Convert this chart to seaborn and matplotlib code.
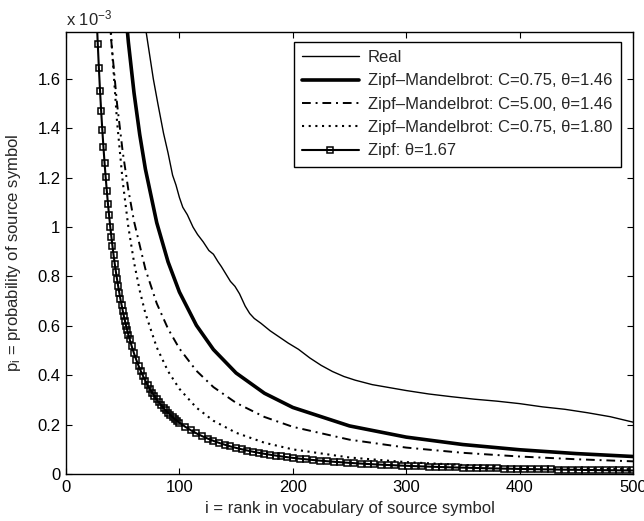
import matplotlib
matplotlib.use("Agg")
import matplotlib.pyplot as plt
import seaborn as sns
from matplotlib.ticker import FuncFormatter, FixedLocator

# ---------------- data (p in units of 1e-3) ----------------
real_rank = [60, 64, 67, 70, 74, 77, 81, 86, 90, 94, 97, 100, 103, 107, 112, 116, 121, 126, 130, 134,
             137, 141, 145, 149, 153, 158, 162, 166, 172, 180, 188, 196, 205, 215, 225, 235, 245, 255,
             270, 285, 300, 320, 340, 360, 380, 400, 420, 440, 460, 480, 500]
real_p = [2.30, 2.08, 1.93, 1.81, 1.69, 1.60, 1.50, 1.38, 1.30, 1.21, 1.17, 1.12, 1.08, 1.05, 1.00,
          0.97, 0.94, 0.905, 0.89, 0.86, 0.84, 0.81, 0.78, 0.76, 0.73, 0.68, 0.65, 0.63, 0.61, 0.58,
          0.555, 0.53, 0.505, 0.47, 0.44, 0.415, 0.395, 0.38, 0.362, 0.35, 0.338, 0.324, 0.313,
          0.303, 0.295, 0.285, 0.272, 0.262, 0.248, 0.232, 0.21]

zm1_rank = [45, 50, 55, 60, 65, 70, 80, 90, 100, 115, 130, 150, 175, 200, 250, 300, 350, 400, 450, 500]
zm1_p = [2.334, 2.006, 1.749, 1.543, 1.375, 1.235, 1.018, 0.859, 0.737, 0.602, 0.504, 0.409, 0.327,
         0.2695, 0.1947, 0.1494, 0.1193, 0.0982, 0.0827, 0.0709]

zm2_rank = [35, 40, 45, 50, 55, 60, 70, 80, 90, 100, 115, 130, 150, 175, 200, 250, 300, 350, 400, 450, 500]
zm2_p = [2.078, 1.750, 1.500, 1.305, 1.150, 1.023, 0.830, 0.691, 0.588, 0.508, 0.418, 0.352, 0.288,
         0.231, 0.191, 0.139, 0.107, 0.0858, 0.0708, 0.0597, 0.0513]

zm3_rank = [35, 40, 45, 50, 55, 60, 65, 70, 80, 90, 100, 115, 130, 150, 175, 200, 250, 300, 350, 400, 450, 500]
zm3_p = [2.226, 1.758, 1.428, 1.185, 1.000, 0.857, 0.743, 0.651, 0.513, 0.416, 0.345, 0.2686, 0.2156,
         0.1669, 0.1266, 0.0997, 0.0668, 0.0481, 0.0365, 0.0287, 0.0232, 0.0192]

zipf_rank = list(range(24, 57)) + list(range(58, 101, 2)) + list(range(105, 201, 5)) + list(range(206, 501, 6))
zipf_p = [2.254, 2.106, 1.972, 1.852, 1.743, 1.644, 1.553, 1.470, 1.395, 1.325, 1.260, 1.201, 1.146,
          1.094, 1.047, 1.002, 0.961, 0.922, 0.885, 0.851, 0.819, 0.789, 0.761, 0.734, 0.708, 0.685,
          0.662, 0.640, 0.620, 0.600, 0.582, 0.564, 0.548,
          0.5165, 0.4881, 0.4621, 0.4382, 0.4162, 0.3960, 0.3773, 0.3599, 0.3439, 0.3289, 0.3150,
          0.3019, 0.2897, 0.2783, 0.2676, 0.2575, 0.2480, 0.2390, 0.2306, 0.2227, 0.2151, 0.2080,
          0.1917, 0.1774, 0.1647, 0.1534, 0.1433, 0.1342, 0.1260, 0.1186, 0.1118, 0.1057, 0.1001,
          0.0949, 0.0901, 0.0857, 0.0817, 0.0780, 0.0745, 0.0712, 0.0682, 0.0654,
          0.0622, 0.0593, 0.0566, 0.0541, 0.0518, 0.0496, 0.0476, 0.0457, 0.0439, 0.0422, 0.0406,
          0.0391, 0.0377, 0.0364, 0.0352, 0.0340, 0.0329, 0.0318, 0.0308, 0.0298, 0.0289, 0.0281,
          0.0272, 0.0264, 0.0257, 0.0250, 0.0243, 0.0236, 0.0230, 0.0224, 0.0218, 0.0213, 0.0207,
          0.0202, 0.0197, 0.0193, 0.0188, 0.0184, 0.0179, 0.0175, 0.0171, 0.0168, 0.0164, 0.0160,
          0.0157, 0.0154, 0.0151, 0.0148, 0.0145, 0.0142]

labels = ["Real",
          "Zipf\u2013Mandelbrot: C=0.75, \u03b8=1.46",
          "Zipf\u2013Mandelbrot: C=5.00, \u03b8=1.46",
          "Zipf\u2013Mandelbrot: C=0.75, \u03b8=1.80",
          "Zipf: \u03b8=1.67"]
x_ticks = [0, 100, 200, 300, 400, 500]
y_ticks = [0, 0.2, 0.4, 0.6, 0.8, 1.0, 1.2, 1.4, 1.6]

# ---------------- style ----------------
sns.set_style("ticks")
plt.rcParams["font.family"] = ["Liberation Sans", "DejaVu Sans"]
plt.rcParams["mathtext.fontset"] = "custom"
plt.rcParams["mathtext.rm"] = "Liberation Sans"
plt.rcParams["mathtext.it"] = "Liberation Sans:italic"
plt.rcParams["font.size"] = 12

fig = plt.figure(figsize=(6.44, 5.21), dpi=100)
ax = fig.add_axes([66 / 644, 47 / 521, 567 / 644, 442 / 521])

sns.lineplot(x=real_rank, y=real_p, ax=ax, color="black", linewidth=1.0, label=labels[0],
             sort=False, estimator=None)
sns.lineplot(x=zm1_rank, y=zm1_p, ax=ax, color="black", linewidth=2.6, label=labels[1],
             sort=False, estimator=None)
sns.lineplot(x=zm2_rank, y=zm2_p, ax=ax, color="black", linewidth=1.4, label=labels[2],
             linestyle=(0, (4.5, 2.5, 1, 2.5)), sort=False, estimator=None)
sns.lineplot(x=zm3_rank, y=zm3_p, ax=ax, color="black", linewidth=1.5, label=labels[3],
             linestyle=(0, (1, 2.2)), sort=False, estimator=None)
sns.lineplot(x=zipf_rank, y=zipf_p, ax=ax, color="black", linewidth=1.5, label=labels[4],
             marker="s", markersize=4.6, markerfacecolor="none", markeredgecolor="black",
             markeredgewidth=1.1, sort=False, estimator=None)

ax.set_xlim(0, 500)
ax.set_ylim(0, 1.79)
ax.xaxis.set_major_locator(FixedLocator(x_ticks))
ax.yaxis.set_major_locator(FixedLocator(y_ticks))
ax.yaxis.set_major_formatter(FuncFormatter(lambda v, p: f"{v:g}"))
ax.tick_params(direction="in", length=4, width=0.8, top=True, right=True,
               labelsize=12, colors="black", pad=4)
for s in ax.spines.values():
    s.set_visible(True)
    s.set_linewidth(1.0)
    s.set_color("black")

ax.set_xlabel("i = rank in vocabulary of source symbol", fontsize=12, labelpad=5)
ax.set_ylabel("p$_\\mathregular{i}$ = probability of source symbol", fontsize=12, labelpad=10)
ax.text(0.0, 1.008, "x 10$^{\\mathregular{-3}}$", transform=ax.transAxes,
        ha="left", va="bottom", fontsize=12)

leg = ax.legend(loc="upper right", bbox_to_anchor=(0.978, 0.978), frameon=True, fancybox=False,
                shadow=False, framealpha=1, edgecolor="black", fontsize=12, handlelength=3.4,
                handletextpad=0.55, labelspacing=0.5, borderpad=0.5, borderaxespad=0.0,
                numpoints=1)
leg.get_frame().set_linewidth(1.0)

fig.savefig("out.png", dpi=100, facecolor="white")
